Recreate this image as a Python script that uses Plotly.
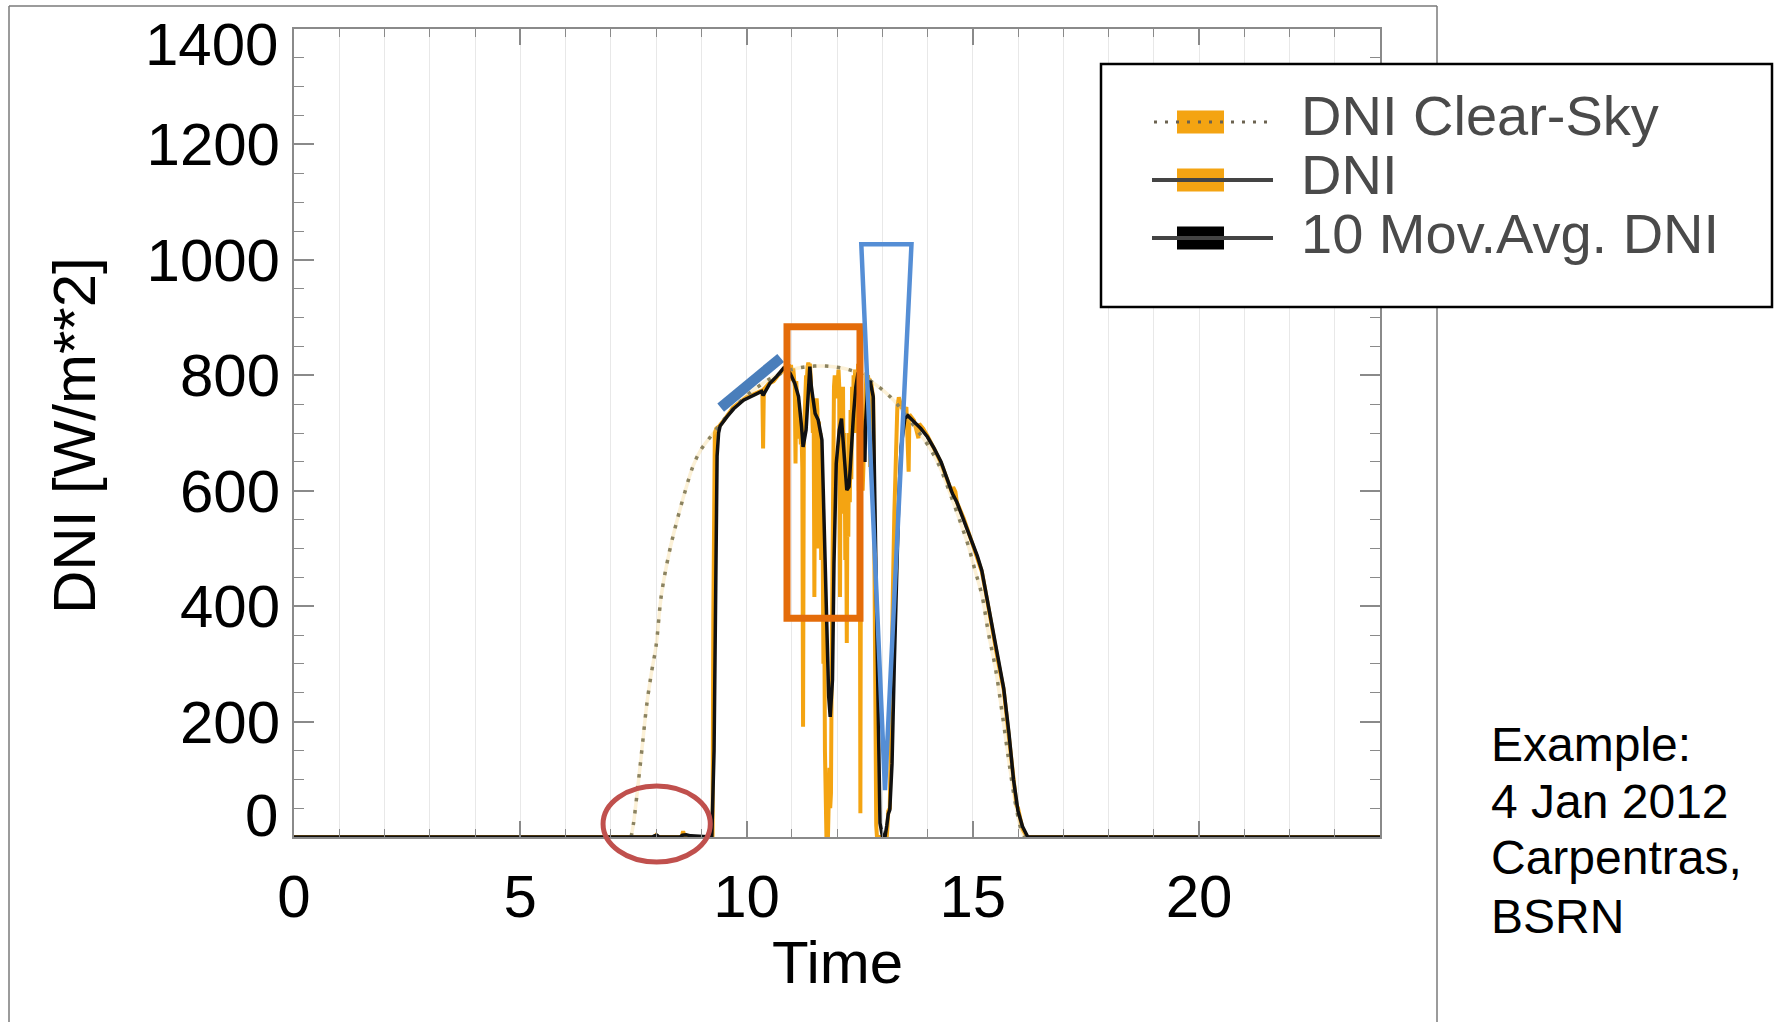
import plotly.graph_objects as go

FONT = "Liberation Sans, Arial, Helvetica, sans-serif"

# ---------------------------------------------------------------- data
# Clear-sky DNI model (hour of day, W/m2)
clear_hours = [7.45, 7.50, 7.60, 7.70, 7.80, 7.90, 8.00, 8.12, 8.29, 8.46, 8.64,
               8.82, 9.00, 9.20, 9.40, 9.60, 9.80, 10.00, 10.25, 10.50, 10.75,
               11.00, 11.25, 11.50, 11.75, 12.00, 12.25, 12.50, 12.75, 13.00,
               13.25, 13.50, 13.75, 14.00, 14.25, 14.50, 14.75, 14.90, 15.05,
               15.20, 15.35, 15.50, 15.65, 15.80, 15.95, 16.08, 16.15]
clear_dni = [0, 22, 88, 160, 232, 285, 330, 420, 492, 547, 598,
             643, 672, 693, 713, 733, 750, 765, 780, 793, 803,
             810, 814, 816, 816, 814, 810, 803, 790, 775,
             757, 733, 707, 680, 645, 595, 540, 505, 462,
             420, 352, 293, 215, 130, 55, 10, 0]

# Measured DNI, 1-min samples (minute of day, W/m2)
dni_minutes = [0, 478, 480, 483, 514, 516, 518, 555, 556, 558, 560, 564, 570,
               576, 582, 588, 594, 600, 606, 612, 618, 621, 622, 623, 630, 636,
               642, 648, 652, 654, 656,
               657, 658, 659, 660, 661, 662, 663, 664, 665, 666, 667, 668, 669,
               670, 671, 672, 673, 674, 675, 676, 677, 678, 679, 680, 681, 682,
               683, 684, 685, 686, 687, 688, 689, 690, 691, 692, 693, 694, 695,
               696, 697, 698, 699, 700, 701, 702, 703, 704, 705, 706, 707, 708,
               709, 710, 711, 712, 713, 714, 715, 716, 717, 718, 719, 720, 721,
               722, 723, 724, 725, 726, 727, 728, 729, 730, 731, 732, 733, 734,
               735, 736, 737, 738, 739, 740, 741, 742, 743, 744, 745, 746, 747,
               748, 749, 750, 751, 752, 753, 754, 755, 756, 757, 758, 759, 760,
               761, 762, 763, 764, 765, 766, 767,
               768, 769, 770, 771, 772, 773, 786, 787, 788, 790, 791, 792, 794,
               796, 798, 800, 802, 804, 806, 808, 810, 812, 815, 816, 822, 828,
               829, 834, 840, 849, 858, 867, 872, 874, 877, 879, 888, 897, 906,
               912, 918, 924, 933, 941, 948, 954, 958, 960, 963, 966, 972, 1440]
dni_values = [0, 0, 3, 0, 0, 10, 0, 0, 380, 700, 708, 712, 722,
              732, 744, 750, 757, 762, 765, 768, 772, 774, 673, 776, 786, 790,
              800, 808, 816, 812, 818,
              815, 812, 818, 805, 790, 812, 800, 780, 647, 790, 760, 700, 750,
              690, 720, 680, 700, 640, 191, 690, 720, 760, 800, 790, 815, 822,
              810, 820, 800, 780, 740, 700, 760, 416, 720, 690, 760, 740, 500,
              720, 650, 700, 480, 600, 520, 300, 420, 150, 80, 0, 40, 0,
              60, 120, 50, 76, 300, 500, 700, 780, 800, 760, 780, 800, 790,
              810, 780, 416, 770, 720, 650, 780, 560, 700, 480, 600, 336, 640,
              520, 700, 580, 740, 620, 780, 700, 800, 760, 810, 700, 800, 780,
              820, 600, 750, 41, 700, 650, 600, 640, 700, 760, 790, 805, 795,
              800, 790, 795, 641, 790, 780, 770,
              760, 600, 320, 110, 20, 0, 0, 20, 45, 50, 120, 260, 420,
              560, 680, 745, 762, 748, 742, 745, 738, 745, 633, 732, 722, 691,
              716, 708, 695, 672, 648, 616, 598, 606, 598, 580, 552, 518, 486,
              460, 418, 370, 308, 255, 175, 96, 55, 50, 30, 14, 0, 0]

# 10-sample moving average of DNI (minute of day, W/m2)
ma_minutes = [0, 475, 478, 481, 484, 512, 515, 520, 526, 554, 557, 559, 561,
              563, 565, 574, 583, 596, 609, 620, 622, 625, 631, 640, 649, 654,
              658, 664, 669, 673, 675, 679, 682, 684, 686, 691, 695, 697, 700,
              702, 706, 709, 711, 714, 716, 719, 723, 726, 728, 731, 733, 736,
              739, 742, 745, 748, 751, 754, 757, 758, 761, 764, 768, 770, 773,
              775, 777, 780, 784, 786, 788, 790, 793, 796, 799, 802, 805, 810,
              814, 822, 831, 840, 849, 858, 867, 873, 879, 888, 897, 906, 912,
              918, 924, 933, 941, 948, 954, 960, 966, 973, 1440]
ma_values = [0, 0, 2, 3, 0, 0, 3, 4, 2, 0, 150, 420, 660,
             700, 712, 728, 742, 757, 766, 772, 765, 772, 786, 798, 812, 808,
             803, 786, 763, 711, 676, 705, 763, 815, 780, 734, 723, 705, 688,
             590, 416, 243, 208, 272, 474, 647, 705, 725, 688, 636, 601, 607,
             676, 734, 780, 805, 760, 680, 650, 720, 785, 790, 763, 590, 359,
             128, 24, 3, 3, 20, 40, 47, 128, 301, 474, 590, 676, 725,
             730, 720, 708, 693, 673, 650, 617, 595, 580, 550, 520, 487, 462,
             420, 372, 312, 258, 180, 100, 45, 18, 0, 0]

x_tick_vals = [0, 5, 10, 15, 20]
y_tick_vals = [0, 200, 400, 600, 800, 1000, 1200, 1400]
legend_labels = ["DNI Clear-Sky", "DNI", "10 Mov.Avg. DNI"]
note_lines = ["Example:", "4 Jan 2012", "Carpentras,", "BSRN"]

ORANGE = "#F4A412"
BLACK = "#111111"

# ---------------------------------------------------------------- geometry helpers
W, H = 1774, 1022
PL, PR, PT, PB = 294, 1380, 29, 837


def px(xp):
    return (xp - PL) / (PR - PL)


def py(yp):
    return (PB - yp) / (PB - PT)


# ---------------------------------------------------------------- traces
fig = go.Figure()
fig.add_trace(go.Scatter(
    x=[m / 60 for m in dni_minutes], y=dni_values, mode="lines",
    line=dict(color=ORANGE, width=4), name=legend_labels[1], showlegend=False))
fig.add_trace(go.Scatter(
    x=clear_hours, y=clear_dni, mode="lines", line_shape="spline",
    line=dict(color="rgba(246,205,110,0.28)", width=3.5), showlegend=False,
    hoverinfo="skip"))
fig.add_trace(go.Scatter(
    x=clear_hours, y=clear_dni, mode="lines", line_shape="spline",
    line=dict(color="#8A8260", width=3.5, dash="3.5px,8.5px"),
    name=legend_labels[0], showlegend=False))
fig.add_trace(go.Scatter(
    x=[m / 60 for m in ma_minutes], y=ma_values, mode="lines",
    line=dict(color=BLACK, width=3.5), name=legend_labels[2], showlegend=False))

# ---------------------------------------------------------------- axes
AXIS_GREY = "#8a8a8a"
fig.update_xaxes(
    range=[0, 24], tickvals=x_tick_vals, ticks="inside", ticklen=16, tickwidth=1.5,
    tickcolor=AXIS_GREY, showline=True, linecolor=AXIS_GREY, linewidth=2,
    mirror="ticks", showgrid=True, gridcolor="#e8e8e8", gridwidth=1,
    zeroline=False, tickfont=dict(family=FONT, size=60, color="black"),
    ticklabelstandoff=6,
    minor=dict(dtick=1, tick0=0, ticks="inside", ticklen=8, tickwidth=1.2,
               tickcolor=AXIS_GREY, showgrid=True, gridcolor="#e8e8e8",
               gridwidth=1))
fig.update_yaxes(
    range=[0, 1400], tickvals=y_tick_vals,
    ticktext=["" if v in (0, 1400) else str(v) for v in y_tick_vals],
    ticks="inside", ticklen=20, tickwidth=1.5, tickcolor=AXIS_GREY,
    showline=True, linecolor=AXIS_GREY, linewidth=2, mirror="ticks",
    showgrid=False, zeroline=False,
    tickfont=dict(family=FONT, size=60, color="black"), ticklabelstandoff=0,
    minor=dict(dtick=50, tick0=0, ticks="inside", ticklen=10, tickwidth=1.2,
               tickcolor=AXIS_GREY, showgrid=False))

annotations = []
# end labels of the value axis sit slightly inside the frame
annotations.append(dict(text="0", x=0, xref="paper", y=0, yref="y",
                        xanchor="right", yanchor="middle", xshift=-14, yshift=22,
                        showarrow=False, font=dict(family=FONT, size=60, color="black")))
annotations.append(dict(text="1400", x=0, xref="paper", y=1400, yref="y",
                        xanchor="right", yanchor="middle", xshift=-14, yshift=-15,
                        showarrow=False, font=dict(family=FONT, size=60, color="black")))
# axis titles
annotations.append(dict(text="DNI [W/m**2]", x=px(74), y=py(436), xref="paper",
                        yref="paper", textangle=-90, xanchor="center",
                        yanchor="middle", showarrow=False,
                        font=dict(family=FONT, size=60, color="black")))
annotations.append(dict(text="Time", x=px(837), y=py(962), xref="paper",
                        yref="paper", xanchor="center", yanchor="middle",
                        showarrow=False, font=dict(family=FONT, size=60, color="black")))
# side note
for line, yc in zip(note_lines, [744, 801, 858, 916]):
    annotations.append(dict(text=line, x=px(1489), y=py(yc), xref="paper",
                            yref="paper", xanchor="left", yanchor="middle",
                            showarrow=False,
                            font=dict(family=FONT, size=48, color="black")))

shapes = []
# outer frame of the figure panel
for x0, y0, x1, y1 in [(9, 6, 1437, 6), (9, 6, 9, 1030), (1437, 6, 1437, 1030)]:
    shapes.append(dict(type="line", xref="paper", yref="paper",
                       x0=px(x0), y0=py(y0), x1=px(x1), y1=py(y1),
                       line=dict(color="#7a7a7a", width=1.5), layer="above"))

# highlight marks
shapes.append(dict(type="circle", xref="x", yref="paper", x0=6.83, x1=9.20,
                   y0=py(862), y1=py(786), line=dict(color="#C0504D", width=5),
                   layer="above"))
shapes.append(dict(type="line", xref="x", yref="y", x0=9.43, y0=744, x1=10.755,
                   y1=830, line=dict(color="#4A7EBB", width=10.5), layer="above"))
shapes.append(dict(type="rect", xref="x", yref="y", x0=10.895, x1=12.508,
                   y0=379, y1=884, line=dict(color="#E46C0A", width=7),
                   layer="above"))
shapes.append(dict(type="path", xref="x", yref="y",
                   path="M 12.537,1027 L 13.646,1027 L 13.061,81 Z",
                   line=dict(color="#558ED5", width=4.5), layer="above"))

# legend panel
shapes.append(dict(type="rect", xref="paper", yref="paper", x0=px(1101), x1=px(1772),
                   y0=py(307), y1=py(64), fillcolor="white",
                   line=dict(color="black", width=2.5), layer="above"))
row_y = [122, 180, 238]
text_y = [116, 174, 233]
box_fill = [ORANGE, ORANGE, "black"]
for i, (ry, ty, fill, lab) in enumerate(zip(row_y, text_y, box_fill, legend_labels)):
    shapes.append(dict(type="rect", xref="paper", yref="paper",
                       x0=px(1177), x1=px(1224), y0=py(ry + 11.5), y1=py(ry - 11.5),
                       fillcolor=fill, line=dict(width=0), layer="above"))
    if i == 0:
        shapes.append(dict(type="line", xref="paper", yref="paper",
                           x0=px(1154), x1=px(1273), y0=py(ry), y1=py(ry),
                           line=dict(color="#6b6250", width=3, dash="3px,8px"),
                           layer="above"))
    else:
        shapes.append(dict(type="line", xref="paper", yref="paper",
                           x0=px(1152), x1=px(1273), y0=py(ry), y1=py(ry),
                           line=dict(color="#444444", width=4), layer="above"))
    annotations.append(dict(text=lab, x=px(1299), y=py(ty), xref="paper",
                            yref="paper", xanchor="left", yanchor="middle",
                            showarrow=False,
                            font=dict(family=FONT, size=56, color="#4a4a4a")))

fig.update_layout(
    width=W, height=H, margin=dict(l=PL, r=W - PR, t=PT, b=H - PB, pad=0),
    paper_bgcolor="white", plot_bgcolor="white", showlegend=False,
    shapes=shapes, annotations=annotations)

fig.write_html("out.html")
